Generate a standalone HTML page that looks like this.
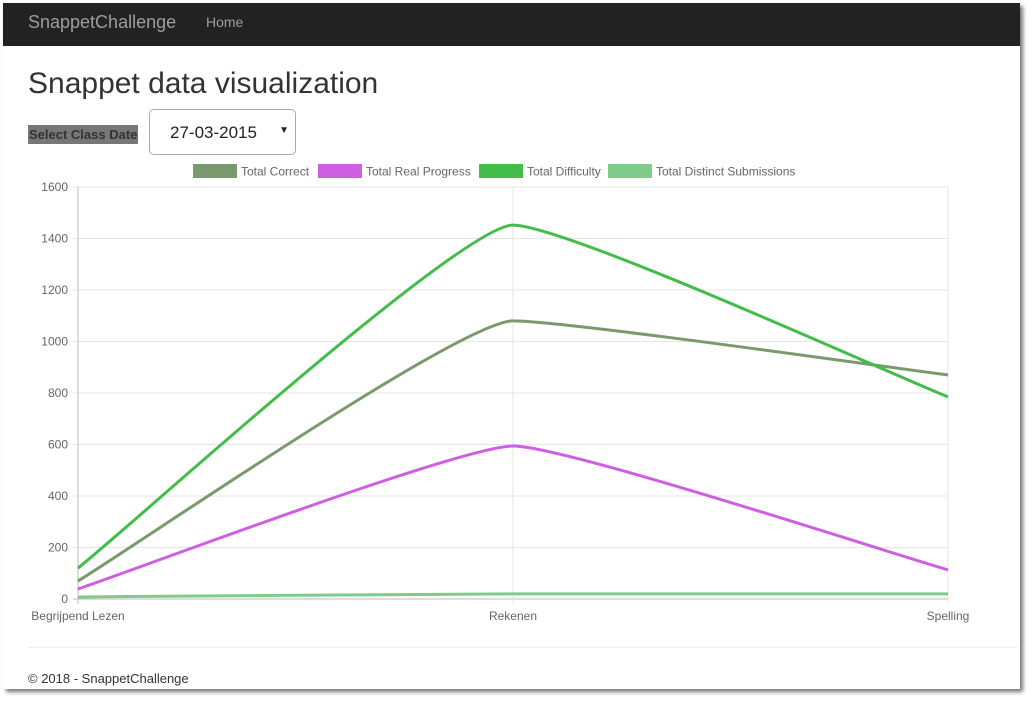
<!DOCTYPE html>
<html><head><meta charset="utf-8">
<style>
body{margin:0;width:1033px;height:704px;background:#fff;font-family:"Liberation Sans",sans-serif;position:relative;overflow:hidden}
#page{position:absolute;left:3px;top:3px;width:1017px;height:686px;background:#fff;box-shadow:3px 3px 4px #777}
#nav{position:absolute;left:0;top:0;width:1017px;height:43px;background:#222}
.brand{position:absolute;left:25px;top:9px;font-size:18px;color:#9d9d9d;white-space:nowrap}
.home{position:absolute;left:203px;top:11px;font-size:14px;color:#9d9d9d;white-space:nowrap}
h1{position:absolute;left:25px;top:64px;margin:0;font-weight:normal;font-size:30px;color:#333;white-space:nowrap}
.lbl{position:absolute;left:25px;top:122px;background:#777;color:#333;font-weight:bold;font-size:13px;padding:2px 1px;white-space:nowrap}
.sel{position:absolute;left:146px;top:106px;width:147px;height:46px;border:1px solid #aaa;border-radius:5px;box-sizing:border-box;font-size:17px;color:#222;white-space:nowrap}
.sel span{position:absolute;left:20px;top:13px}
.sel i{position:absolute;right:6px;top:15px;font-style:normal;font-size:10px}
.hr{position:absolute;left:25px;top:644px;width:990px;border-top:1px solid #eee}
.foot{position:absolute;left:25px;top:668px;font-size:13px;color:#333;white-space:nowrap}
svg{position:absolute;left:0;top:0}
</style></head><body>
<div id="page"></div>
<div style="position:absolute;left:3px;top:3px;width:1017px">
<div id="nav">
<span class="brand">SnappetChallenge</span>
<span class="home">Home</span>
</div>
<h1>Snappet data visualization</h1>
<span class="lbl">Select Class Date</span>
<div class="sel"><span>27-03-2015</span><i>▼</i></div>
<div class="hr"></div>
<div class="foot">© 2018 - SnappetChallenge</div>
</div>
<svg id="chart" width="1033" height="704"></svg>
<script>
const categories=["Begrijpend Lezen","Rekenen","Spelling"];
const seriesNames=["Total Correct","Total Real Progress","Total Difficulty","Total Distinct Submissions"];
const totalCorrect=[70,1080,870];
const totalRealProgress=[39,594,113];
const totalDifficulty=[120,1452,785];
const totalDistinct=[8,20,20];
const yTicks=[0,200,400,600,800,1000,1200,1400,1600];
const colors=["#7a9a6e","#d05ee3","#42bd4a","#7ecb8a"];
const series=[totalCorrect,totalRealProgress,totalDifficulty,totalDistinct];
const svg=document.getElementById('chart');
const NS="http://www.w3.org/2000/svg";
const X0=78,X1=948,Y0=599,Y1=187,YMAX=1600;
const xs=i=>X0+(X1-X0)*i/(categories.length-1);
const ys=v=>Y0-(Y0-Y1)*v/YMAX;
function mk(t,a,txt){const e=document.createElementNS(NS,t);for(const k in a)e.setAttribute(k,a[k]);if(txt!=null)e.textContent=txt;svg.appendChild(e);return e;}
yTicks.forEach(t=>{
 const g=mk('line',{x1:X0-5,x2:X1,y1:ys(t),y2:ys(t),stroke:t===0?'#bbb':'#e6e6e6'});
 
 
 const l=mk('text',{x:X0-10,y:ys(t)+4,'text-anchor':'end','font-size':12,fill:'#666','font-family':'Liberation Sans'},t);
 
 
});
categories.forEach((c,i)=>{
 const g=mk('line',{x1:xs(i),x2:xs(i),y1:Y1,y2:Y0+5,stroke:i===0?'#bbb':'#e6e6e6'});
 
 
 const l=mk('text',{x:xs(i),y:Y0+21,'text-anchor':'middle','font-size':12,fill:'#666','font-family':'Liberation Sans'},c);
 
 
});
function path(vals){
 const p=vals.map((v,i)=>[xs(i),ys(v)]);
 let d=`M${p[0][0]},${p[0][1]}`;
 // monotone-ish: tangent at interior points is zero if extremum, else small
 const tan=p.map((c,i)=>{
  if(i===0||i===p.length-1)return null;
  const a=p[i-1],b=p[i+1];
  if((c[1]-a[1])*(b[1]-c[1])<=0)return 0;
  return (b[1]-a[1])/(b[0]-a[0]);
 });
 for(let i=1;i<p.length;i++){
  const a=p[i-1],b=p[i],h=(b[0]-a[0]);
  const sl=(b[1]-a[1])/h;
  const ta=tan[i-1]===null?sl:tan[i-1],tb=tan[i]===null?sl:tan[i];
  const f=0.12;
  d+=` C${a[0]+h*f},${a[1]+h*f*ta} ${b[0]-h*f},${b[1]-h*f*tb} ${b[0]},${b[1]}`;
 }
 return d;
}
series.forEach((s,k)=>{
 const e=mk('path',{d:path(s),fill:'none',stroke:colors[k],'stroke-width':3});
 
 
});
const legX=[193,318,479,608];
seriesNames.forEach((n,k)=>{
 const r=mk('rect',{x:legX[k],y:164,width:44,height:14,fill:colors[k]});
 
 
 const t=mk('text',{x:legX[k]+48,y:175.5,'font-size':12,fill:'#666','font-family':'Liberation Sans'},n);
 
 
});
</script>
</body></html>
